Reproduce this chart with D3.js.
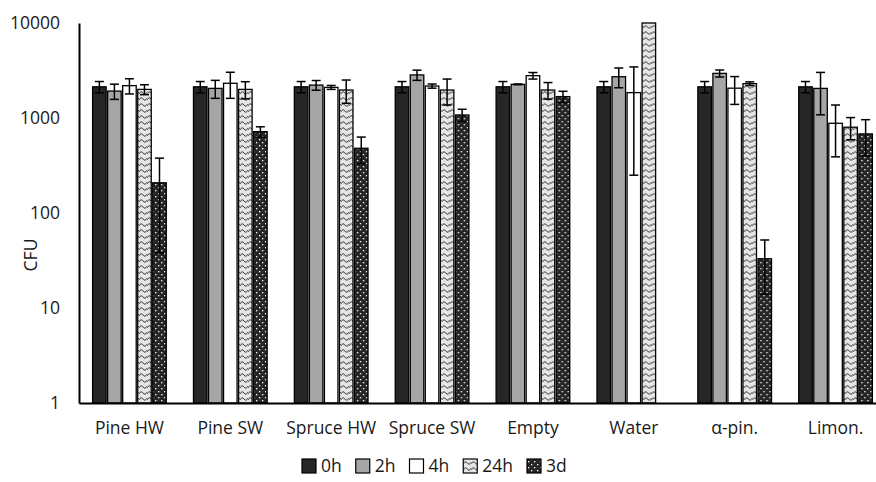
<!DOCTYPE html>
<html>
<head>
<meta charset="utf-8">
<script src="https://cdn.jsdelivr.net/npm/d3@7"></script>
<style>
  html, body { margin: 0; padding: 0; background: #fff; }
  svg { display: block; font-family: "Open Sans", sans-serif; }
</style>
</head>
<body>
<svg id="chart" width="876" height="482"></svg>
<script>
// ---- data ----
const categories = ["Pine HW", "Pine SW", "Spruce HW", "Spruce SW", "Empty", "Water", "α-pin.", "Limon."];
const seriesNames = ["0h", "2h", "4h", "24h", "3d"];
const v0h  = [2130, 2130, 2130, 2130, 2130, 2130, 2130, 2130];
const v2h  = [1920, 2050, 2220, 2840, 2260, 2720, 2950, 2050];
const v4h  = [2190, 2320, 2100, 2170, 2790, 1850, 2060, 880];
const v24h = [2000, 2000, 1970, 1970, 1970, 10000, 2300, 800];
const v3d  = [208, 718, 480, 1076, 1680, null, 33, 680];
const e0h  = [290, 290, 290, 290, 290, 290, 290, 290];
const e2h  = [350, 440, 260, 350, 20, 640, 250, 970];
const e4h  = [400, 710, 100, 110, 220, 1600, 670, 490];
const e24h = [240, 410, 540, 600, 390, 0, 100, 210];
const e3d  = [170, 90, 150, 160, 230, null, 19, 280];
const yTicks = [1, 10, 100, 1000, 10000];

const values = [v0h, v2h, v4h, v24h, v3d];
const errors = [e0h, e2h, e4h, e24h, e3d];

const svg = d3.select("#chart");
const defs = svg.append("defs");

// 24h pattern: light background with wavy lines
const p24 = defs.append("pattern").attr("id", "pWave")
  .attr("patternUnits", "userSpaceOnUse").attr("width", 8).attr("height", 6);
p24.append("rect").attr("width", 8).attr("height", 6).attr("fill", "#e6e6e6");
p24.append("path").attr("d", "M0,4 Q2,0 4,3 T8,2").attr("fill", "none")
  .attr("stroke", "#404040").attr("stroke-width", 1);

// 3d pattern: dark with white dots
const p3d = defs.append("pattern").attr("id", "pDots")
  .attr("patternUnits", "userSpaceOnUse").attr("width", 6).attr("height", 6);
p3d.append("rect").attr("width", 6).attr("height", 6).attr("fill", "#262626");
p3d.append("rect").attr("x", 1).attr("y", 1).attr("width", 1.3).attr("height", 1.3).attr("fill", "#ffffff");
p3d.append("rect").attr("x", 4).attr("y", 4).attr("width", 1.3).attr("height", 1.3).attr("fill", "#ffffff");

const fills = ["#262626", "#a6a6a6", "#ffffff", "url(#pWave)", "url(#pDots)"];

// ---- scales ----
const mLeft = 79, mTop = 23, mBottom = 403, mRightEnd = 886;
const y = d3.scaleLog().domain([1, 10000]).range([mBottom, mTop]);
const x0 = d3.scaleBand().domain(categories).range([mLeft, mRightEnd])
  .paddingInner(0.24).paddingOuter(0.12);
const x1 = d3.scaleBand().domain(seriesNames).range([0, x0.bandwidth()]).padding(0.1);

// ---- bars ----
const clip = defs.append("clipPath").attr("id", "plotClip");
clip.append("rect").attr("x", mLeft).attr("y", mTop - 1).attr("width", 876 - mLeft).attr("height", mBottom - mTop + 1);

const plot = svg.append("g").attr("clip-path", "url(#plotClip)");

categories.forEach((cat, ci) => {
  const g = plot.append("g").attr("transform", `translate(${x0(cat)},0)`);
  seriesNames.forEach((s, si) => {
    const v = values[si][ci];
    if (v == null) return;
    const bx = x1(s), bw = x1.bandwidth();
    g.append("rect")
      .attr("x", bx).attr("width", bw)
      .attr("y", y(v)).attr("height", mBottom - y(v))
      .attr("fill", fills[si]).attr("stroke", "#000").attr("stroke-width", 1.3);
  });
  seriesNames.forEach((s, si) => {
    const v = values[si][ci], e = errors[si][ci];
    if (v == null || !e) return;
    const cx = x1(s) + x1.bandwidth() / 2;
    const lo = Math.max(v - e, 1), hi = v + e;
    const cap = 4.5;
    g.append("line").attr("x1", cx).attr("x2", cx).attr("y1", y(lo)).attr("y2", y(hi))
      .attr("stroke", "#000").attr("stroke-width", 1.5);
    [lo, hi].forEach(t => {
      g.append("line").attr("x1", cx - cap).attr("x2", cx + cap).attr("y1", y(t)).attr("y2", y(t))
        .attr("stroke", "#000").attr("stroke-width", 1.5);
    });
  });
});

// ---- axes ----
const yAxis = d3.axisLeft(y).tickValues(yTicks).tickFormat(d3.format("d")).tickSize(0).tickPadding(19);
const gy = svg.append("g").attr("transform", `translate(${mLeft},0)`).call(yAxis);
gy.select(".domain").attr("stroke", "#000").attr("stroke-width", 2);
gy.selectAll("text").attr("font-size", "17.5px").attr("fill", "#1a1a1a").attr("font-family", "Open Sans");

const xAxis = d3.axisBottom(x0).tickSize(0).tickPadding(19);
const gx = svg.append("g").attr("transform", `translate(0,${mBottom})`).call(xAxis);
gx.select(".domain").attr("stroke", "#000").attr("stroke-width", 2.2);
gx.selectAll("text").attr("font-size", "17.5px").attr("fill", "#1a1a1a").attr("font-family", "Open Sans");

// y title
svg.append("text").attr("transform", "translate(37,255) rotate(-90)")
  .attr("text-anchor", "middle").attr("font-size", "17.5px").attr("fill", "#1a1a1a")
  .text("CFU");

// ---- legend ----
const legend = svg.append("g");
let lx = 0;
const sq = 14, gapT = 5, gapI = 14;
seriesNames.forEach((s, si) => {
  const it = legend.append("g");
  it.append("rect").attr("x", 0).attr("y", -13).attr("width", sq).attr("height", sq)
    .attr("fill", fills[si]).attr("stroke", "#000").attr("stroke-width", 1.2);
  const t = it.append("text").attr("x", sq + gapT).attr("y", 0).attr("font-size", "17.5px").attr("fill", "#1a1a1a").text(s);
  const w = sq + gapT + t.node().getComputedTextLength();
  it.attr("transform", `translate(${lx},0)`);
  lx += w + gapI;
});
const totalW = lx - gapI;
legend.attr("transform", `translate(${302},472)`);
</script>
</body>
</html>
